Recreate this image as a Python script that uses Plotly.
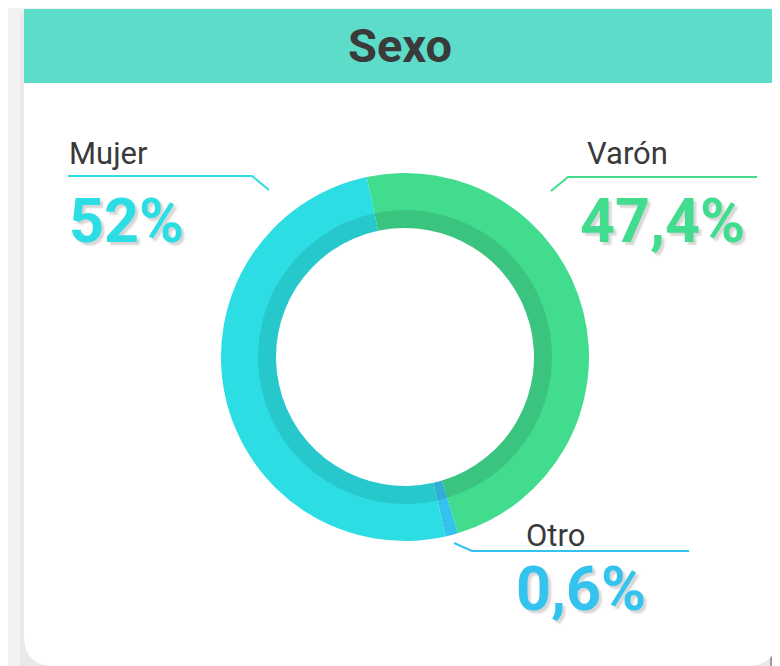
import plotly.graph_objects as go

# ---- data ----
labels = ["Varón", "Otro", "Mujer"]
slice_share = [48.7, 1.1, 50.2]          # arc sizes as drawn in the picture
value_text = ["47,4%", "0,6%", "52%"]     # printed percentages
colors = ["#42DC8E", "#34C3EE", "#2CDEE3"]
colors_dark = ["#3BC47F", "#2FAFD6", "#27C8CC"]
title = "Sexo"

W, H = 780, 666
OFF = 8                     # page body margin in the browser
cx, cy = 405, 357           # donut centre (screen px)
r_out, r_mid, r_in = 184, 147, 129

def dom(r):
    px, py = cx - OFF, cy - OFF
    return dict(x=[(px - r) / W, (px + r) / W],
                y=[(H - py - r) / H, (H - py + r) / H])

fig = go.Figure()
fig.add_trace(go.Pie(labels=labels, values=slice_share, sort=False, direction="clockwise",
                     rotation=-12, hole=r_mid / r_out - 0.02, domain=dom(r_out),
                     marker=dict(colors=colors, line=dict(width=0)),
                     textinfo="none", hoverinfo="label", showlegend=False))
fig.add_trace(go.Pie(labels=labels, values=slice_share, sort=False, direction="clockwise",
                     rotation=-12, hole=r_in / r_mid, domain=dom(r_mid),
                     marker=dict(colors=colors_dark, line=dict(width=0)),
                     textinfo="none", hoverinfo="label", showlegend=False))

shapes = []
# card shadows + card
shapes.append(dict(type="path", xref="x", yref="y", layer="below",
                   path="M 20 12 L 790 12 L 790 680 L 20 680 Z",
                   fillcolor="rgba(0,0,0,0.03)", line=dict(width=0)))
shapes.append(dict(type="rect", xref="x", yref="y", layer="below",
                   x0=770, x1=790, y0=12, y1=680, fillcolor="#9A9A9A", line=dict(width=0)))
shapes.append(dict(type="path", xref="x", yref="y", layer="below",
                   path="M 24 9 L 777 9 L 777 636 Q 777 666 747 666 L 54 666 Q 24 666 24 636 Z",
                   fillcolor="#FFFFFF", line=dict(width=0)))
# header band
shapes.append(dict(type="rect", xref="x", yref="y", layer="below",
                   x0=24, x1=777, y0=9, y1=83, fillcolor="#5CDCC9", line=dict(width=0)))

# leader lines
shapes.append(dict(type="path", xref="x", yref="y", path="M 68 176 L 252 176 L 269 190",
                   line=dict(color=colors[2], width=2)))
shapes.append(dict(type="path", xref="x", yref="y", path="M 757 177 L 568 177 L 551 191",
                   line=dict(color=colors[0], width=2)))
shapes.append(dict(type="path", xref="x", yref="y", path="M 454 543 L 472 551 L 689 551",
                   line=dict(color=colors[1], width=2)))

shadow = "3px 3px 2px rgba(0,0,0,0.16)"
big = 61
annotations = [
    dict(text=title, x=400, y=45, xanchor="center", yanchor="middle",
         font=dict(family="Roboto", size=47, weight="bold", color="#3A3A3A")),
    dict(text=labels[2], x=67, y=153, xanchor="left", yanchor="middle",
         font=dict(family="Roboto", size=31, color="#3A3A3A")),
    dict(text=value_text[2], x=67, y=221, xanchor="left", yanchor="middle",
         font=dict(family="Roboto", size=big, weight="bold", color=colors[2], shadow=shadow)),
    dict(text=labels[0], x=670, y=153, xanchor="right", yanchor="middle",
         font=dict(family="Roboto", size=31, color="#3A3A3A")),
    dict(text=value_text[0], x=747, y=221, xanchor="right", yanchor="middle",
         font=dict(family="Roboto", size=big, weight="bold", color=colors[0], shadow=shadow)),
    dict(text=labels[1], x=524, y=535, xanchor="left", yanchor="middle",
         font=dict(family="Roboto", size=31, color="#3A3A3A")),
    dict(text=value_text[1], x=514, y=589, xanchor="left", yanchor="middle",
         font=dict(family="Roboto", size=big, weight="bold", color=colors[1], shadow=shadow)),
]
for a in annotations:
    a.update(xref="x", yref="y", showarrow=False)

fig.update_layout(
    width=W, height=H, margin=dict(l=0, r=0, t=0, b=0),
    paper_bgcolor="#F1F1F1", plot_bgcolor="rgba(0,0,0,0)",
    xaxis=dict(range=[OFF, W + OFF], visible=False, fixedrange=True),
    yaxis=dict(range=[H + OFF, OFF], visible=False, fixedrange=True),
    shapes=shapes, annotations=annotations,
)
fig.write_html("out.html")
